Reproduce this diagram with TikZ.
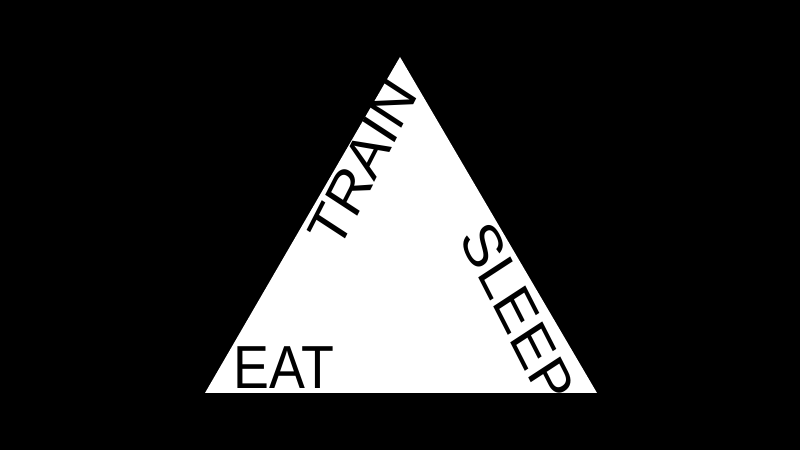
\documentclass[tikz,border=0pt]{standalone}
\usepackage{fontspec}
\setmainfont{Liberation Sans}
\usetikzlibrary{positioning}
\tikzset{
    word/.style={
           inner sep=0pt,
           text=black,
           font=\fontsize{61}{61}\selectfont,
           xscale=0.885,
           },
}

\begin{document}
\begin{tikzpicture}[x=1bp,y=1bp]

    \fill[black] (0,0) rectangle (800,450);

    \coordinate (L) at (205,57);
    \coordinate (R) at (597,57);
    \coordinate (T) at (400,393);
    \fill[white] (L) -- (R) -- (T) -- cycle;

    \node[word,anchor=base west] (eat)   at (233.4,61.7) {EAT};
    \node[word,anchor=center,rotate=60]  (train) at (363,287) {TRAIN};
    \node[word,anchor=center,rotate=-60] (sleep) at (517.5,137) {SLEEP};

\end{tikzpicture}
\end{document}
